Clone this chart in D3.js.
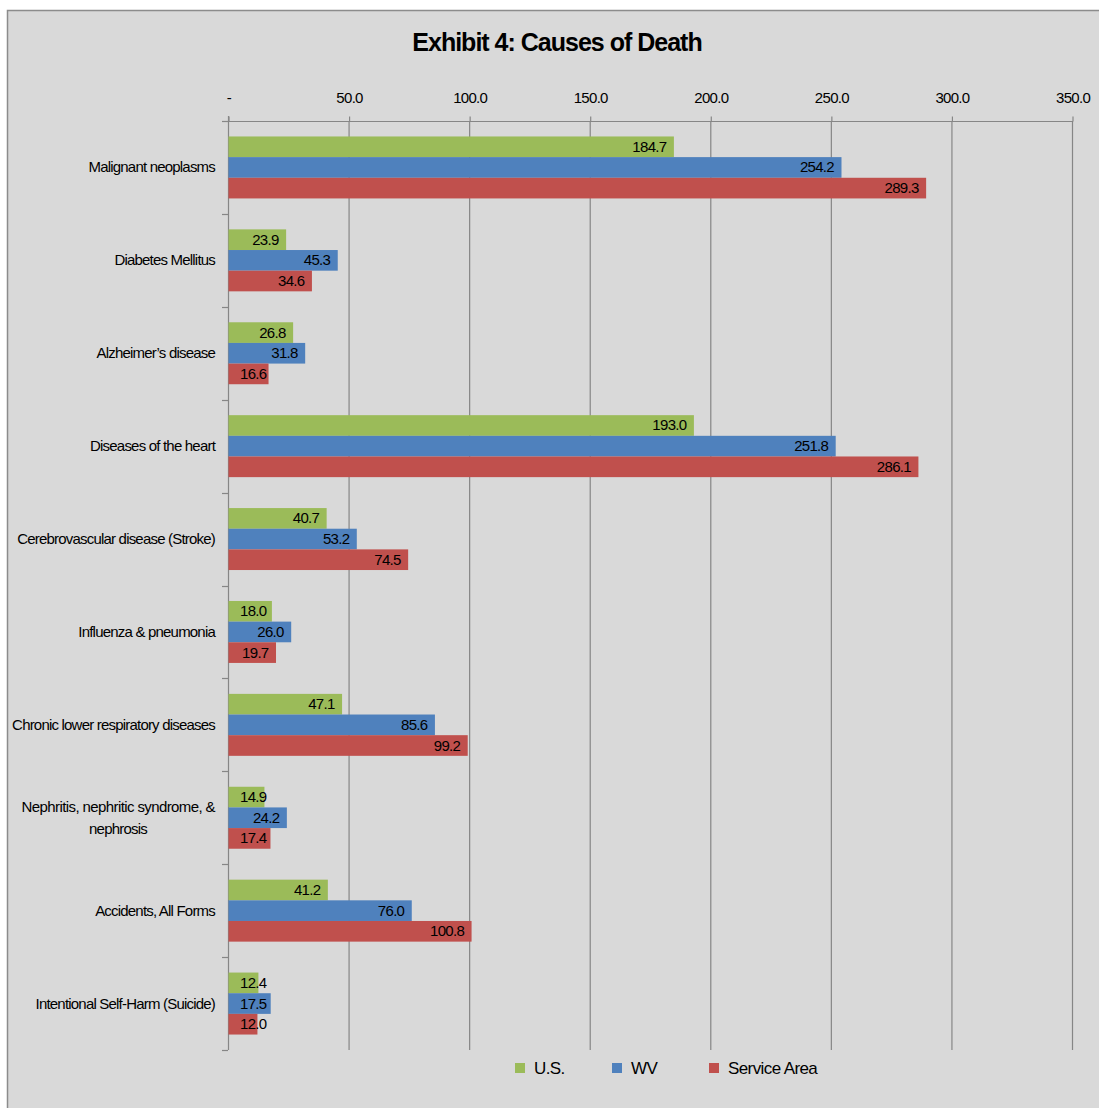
<!DOCTYPE html>
<html lang="en">
<head>
    <meta charset="UTF-8">
    <title>Exhibit 4: Causes of Death</title>
    <script src="https://cdnjs.cloudflare.com/ajax/libs/d3/7.8.5/d3.min.js"></script>
    <style>
        body {
            margin: 0;
            padding: 0;
            background-color: #ffffff;
        }
        svg text {
            font-family: "Liberation Sans Narrow", "Liberation Sans", Arial, sans-serif;
            fill: #000;
        }
    </style>
</head>
<body>
    <div id="chart"></div>

    <script>
        // Chart data
        const categories = [
            "Malignant neoplasms",
            "Diabetes Mellitus",
            "Alzheimer\u2019s disease",
            "Diseases of the heart",
            "Cerebrovascular disease (Stroke)",
            "Influenza & pneumonia",
            "Chronic lower respiratory diseases",
            "Nephritis, nephritic syndrome, & nephrosis",
            "Accidents, All Forms",
            "Intentional Self-Harm (Suicide)"
        ];
        const seriesNames = ["U.S.", "WV", "Service Area"];
        const usValues = [184.7, 23.9, 26.8, 193.0, 40.7, 18.0, 47.1, 14.9, 41.2, 12.4];
        const wvValues = [254.2, 45.3, 31.8, 251.8, 53.2, 26.0, 85.6, 24.2, 76.0, 17.5];
        const areaValues = [289.3, 34.6, 16.6, 286.1, 74.5, 19.7, 99.2, 17.4, 100.8, 12.0];
        const tickValues = [0, 50, 100, 150, 200, 250, 300, 350];
        const colors = ["#9bbb59", "#4f81bd", "#c0504d"];

        const width = 1099;
        const height = 1108;

        const svg = d3.select("#chart")
            .append("svg")
            .attr("width", width)
            .attr("height", height);

        // gray panel
        svg.append("rect")
            .attr("x", 7.5)
            .attr("y", 10.5)
            .attr("width", width)
            .attr("height", height)
            .attr("fill", "#d9d9d9")
            .attr("stroke", "#8c8c8c")
            .attr("stroke-width", 1.5);

        svg.append("text")
            .attr("x", 557)
            .attr("y", 51)
            .attr("text-anchor", "middle")
            .attr("font-size", 25)
            .attr("font-weight", "bold")
            .attr("letter-spacing", -1)
            .text("Exhibit 4: Causes of Death");

        const x = d3.scaleLinear().domain([0, 350]).range([228, 1072]);

        const y = d3.scaleBand()
            .domain(categories)
            .range([121, 1050])
            .paddingInner(0.333)
            .paddingOuter(0.1665);

        const ySub = d3.scaleBand()
            .domain(seriesNames)
            .range([0, y.bandwidth()]);

        const gridColor = "#868686";
        const fs = 15;

        // gridlines
        svg.append("g")
            .selectAll("line")
            .data(tickValues.slice(1))
            .join("line")
            .attr("x1", d => x(d) + 0.5)
            .attr("x2", d => x(d) + 0.5)
            .attr("y1", 121)
            .attr("y2", 1050)
            .attr("stroke", gridColor)
            .attr("stroke-width", 1.2);

        // top value axis
        const xAxis = d3.axisTop(x)
            .tickValues(tickValues)
            .tickSize(5)
            .tickPadding(14)
            .tickFormat(d => d === 0 ? "-" : d3.format(".1f")(d));

        const gx = svg.append("g")
            .attr("transform", "translate(0.5,121.5)")
            .call(xAxis);
        gx.select(".domain").attr("stroke", gridColor).attr("stroke-width", 1.2)
            .attr("d", "M222,0H1072");
        gx.selectAll(".tick line").attr("stroke", gridColor).attr("stroke-width", 1.2);
        gx.selectAll(".tick text")
            .attr("font-size", fs)
            .attr("letter-spacing", -0.7)
            .attr("fill", "#000");

        // left category axis
        svg.append("line")
            .attr("x1", 228.5).attr("x2", 228.5)
            .attr("y1", 116).attr("y2", 1050)
            .attr("stroke", gridColor)
            .attr("stroke-width", 1.2);

        const step = y.step();
        const boundaries = categories.map(c => y(c) - step * y.paddingInner() / 2).concat([1050]);
        svg.append("g")
            .selectAll("line")
            .data(boundaries)
            .join("line")
            .attr("x1", 222)
            .attr("x2", 228)
            .attr("y1", d => Math.round(d) + 0.5)
            .attr("y2", d => Math.round(d) + 0.5)
            .attr("stroke", gridColor)
            .attr("stroke-width", 1.2);

        // category labels
        const labelWrap = {
            "Nephritis, nephritic syndrome, & nephrosis": ["Nephritis, nephritic syndrome, &", "nephrosis"]
        };
        const catLabels = svg.append("g")
            .selectAll("text")
            .data(categories)
            .join("text")
            .attr("font-size", fs)
            .attr("letter-spacing", -0.8)
            .attr("text-anchor", "end")
            .attr("x", 215)
            .attr("y", d => y(d) + y.bandwidth() / 2 + 5);

        catLabels.each(function(d) {
            const lines = labelWrap[d];
            const t = d3.select(this);
            if (!lines) {
                t.text(d);
                return;
            }
            t.attr("y", y(d) + y.bandwidth() / 2 - 6);
            t.selectAll("tspan")
                .data(lines)
                .join("tspan")
                .attr("x", (l, i) => i === 0 ? 215 : 118)
                .attr("text-anchor", (l, i) => i === 0 ? "end" : "middle")
                .attr("letter-spacing", (l, i) => i === 0 ? -0.6 : -0.8)
                .attr("dy", (l, i) => i === 0 ? 0 : 22)
                .text(l => l);
        });

        // bars
        const seriesData = [usValues, wvValues, areaValues];
        const rows = [];
        categories.forEach((c, i) => {
            seriesNames.forEach((s, j) => {
                rows.push({ cat: c, series: s, idx: j, value: seriesData[j][i] });
            });
        });

        svg.append("g")
            .selectAll("rect")
            .data(rows)
            .join("rect")
            .attr("x", x(0) + 0.5)
            .attr("y", d => y(d.cat) + ySub(d.series))
            .attr("width", d => x(d.value) - x(0))
            .attr("height", ySub.bandwidth())
            .attr("fill", d => colors[d.idx]);

        // value labels, inside end
        svg.append("g")
            .selectAll("text")
            .data(rows)
            .join("text")
            .attr("font-size", fs)
            .attr("letter-spacing", -0.7)
            .attr("text-anchor", "end")
            .attr("y", d => y(d.cat) + ySub(d.series) + ySub.bandwidth() / 2 + 5)
            .text(d => d3.format(".1f")(d.value))
            .attr("x", function(d) {
                const w = this.getComputedTextLength();
                return Math.max(x(d.value) - 7, x(0) + 12 + w);
            });

        // legend
        const legendX = [515, 612, 709];
        const legend = svg.append("g")
            .selectAll("g")
            .data(seriesNames)
            .join("g")
            .attr("transform", (d, i) => `translate(${legendX[i]},1063)`);
        legend.append("rect")
            .attr("width", 10)
            .attr("height", 10)
            .attr("fill", (d, i) => colors[i]);
        legend.append("text")
            .attr("x", 19)
            .attr("y", 11)
            .attr("font-size", 17)
            .attr("letter-spacing", -0.6)
            .text(d => d);
    </script>
</body>
</html>
